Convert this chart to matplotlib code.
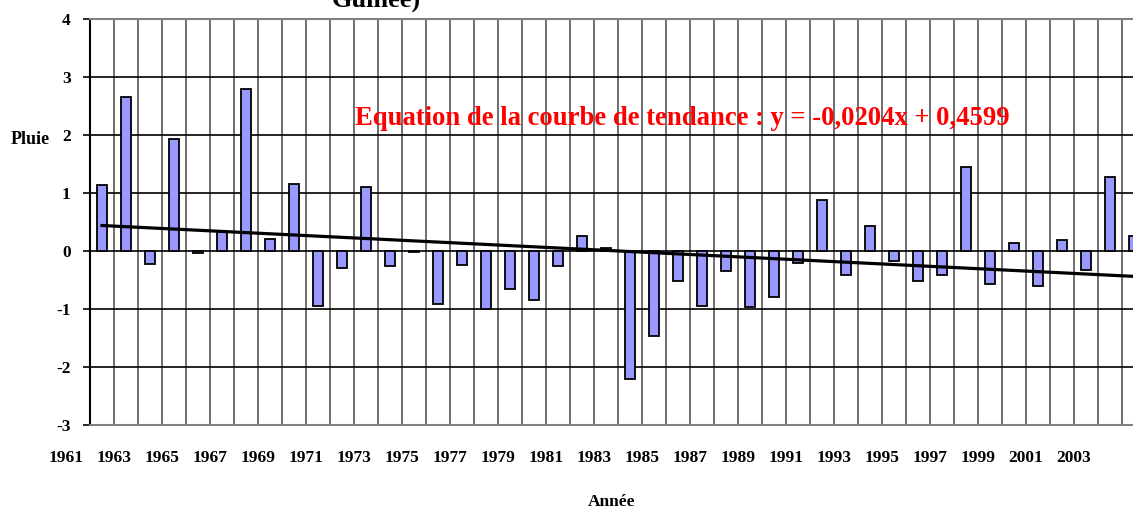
import numpy as np
import matplotlib
matplotlib.use("Agg")
import matplotlib.pyplot as plt
import matplotlib.transforms as mtransforms

# rainfall index per year
years = list(range(1961, 2005))
pluie = [1.14, 2.65, -0.23, 1.93, -0.04, 0.32, 2.79, 0.20, 1.15, -0.94,
         -0.30, 1.11, -0.25, -0.01, -0.92, -0.24, -1.00, -0.65, -0.84, -0.25,
         0.26, 0.05, -2.21, -1.46, -0.51, -0.94, -0.34, -0.97, -0.79, -0.21,
         0.88, -0.41, 0.43, -0.18, -0.52, -0.41, 1.45, -0.57, 0.13, -0.60,
         0.19, -0.33, 1.28, 0.26]
yticks = [-3, -2, -1, 0, 1, 2, 3, 4]
slope = -0.0204
intercept = 0.4599

plt.rcParams['font.family'] = ['Liberation Serif', 'DejaVu Serif']
plt.rcParams['font.weight'] = 'bold'

W, H = 1133, 511
fig = plt.figure(figsize=(W / 100, H / 100), dpi=100)
ax = fig.add_axes([90 / W, 1 - 425 / H, (1146 - 90) / W, (425 - 19) / H])

pos = np.arange(1, len(pluie) + 1)
ax.bar(pos, pluie, width=0.42, color='#9999FF', edgecolor='black',
       linewidth=1.3, zorder=3)

# trend line from the fitted equation
trend = slope * pos + intercept
ax.plot(pos, trend, color='black', lw=2.3, zorder=4)

ax.set_xlim(0.5, len(pluie) + 0.5)
ax.set_ylim(-3, 4)

# vertical grid at category boundaries
ax.set_xticks(np.arange(0.5, len(pluie) + 1, 1))
ax.set_xticklabels([])
ax.tick_params(axis='x', length=0)
ax.grid(axis='x', color='#555555', lw=1.2, zorder=1)
ax.set_yticks(yticks)
ax.set_yticklabels([str(v) for v in yticks], fontsize=12.5, fontweight='bold')
ax.tick_params(axis='y', length=5, width=1.2, pad=9, color='black')
for v in yticks:
    ax.axhline(v, color='black' if -3 < v < 4 else '#808080', lw=1.2, zorder=2)

for side in ['top', 'bottom']:
    ax.spines[side].set_color('#808080')
    ax.spines[side].set_linewidth(1.5)
ax.spines['right'].set_visible(False)
ax.spines['left'].set_linewidth(1.5)

# year labels (every other one), placed as in the original
trans = mtransforms.blended_transform_factory(ax.transData, fig.transFigure)
for k, yr in enumerate(years):
    if k % 2 == 0:
        ax.text(k - 0.5, 1 - 458 / H, str(yr), transform=trans, ha='center',
                va='center', fontsize=12.5, fontweight='bold', clip_on=False)

fig.text(612 / W, 1 - 502 / H, 'Année', ha='center', va='center',
         fontsize=12.5, fontweight='bold')
fig.text(30 / W, 1 - 140 / H, 'Pluie', ha='center', va='center',
         fontsize=13, fontweight='bold')
# title is cropped at the top in the original
fig.text(376 / W, 1 - 7 / H, 'Guinée)', ha='center', va='baseline',
         fontsize=19, fontweight='bold')

fig.text(355 / W, 1 - 125 / H,
         'Equation de la courbe de tendance : y = -0,0204x + 0,4599',
         ha='left', va='baseline', color='red', fontsize=19.2, fontweight='bold')

fig.savefig('out.png', dpi=100)
